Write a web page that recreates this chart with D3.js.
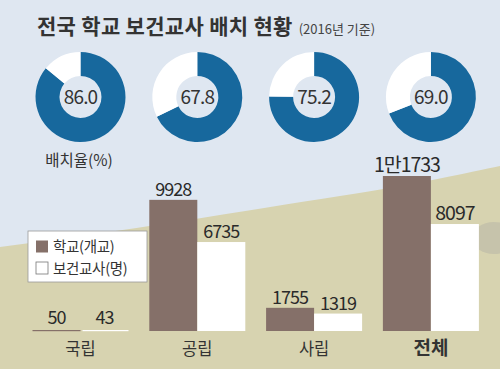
<!DOCTYPE html>
<html>
<head>
<meta charset="utf-8">
<script src="https://cdn.jsdelivr.net/npm/d3@7"></script>
<style>
  body { margin: 0; background: #fff; }
  svg { display: block; font-family: "Noto Sans CJK KR", "Noto Sans", sans-serif; }
</style>
</head>
<body>
<div id="chart"></div>
<script>
const categories = ["국립", "공립", "사립", "전체"];
const rates = [86.0, 67.8, 75.2, 69.0];
const schools = [50, 9928, 1755, 11733];
const teachers = [43, 6735, 1319, 8097];
const schoolLabels = ["50", "9928", "1755", "1만1733"];
const teacherLabels = ["43", "6735", "1319", "8097"];
const seriesNames = ["학교(개교)", "보건교사(명)"];

const width = 500, height = 369;
const blue = "#17689d", brown = "#857069";

const svg = d3.select("#chart").append("svg")
  .attr("width", width)
  .attr("height", height);

// background: sky + khaki ground
svg.append("rect").attr("width", width).attr("height", height).attr("fill", "#dfe7f1");
svg.append("path")
  .attr("d", "M0,247 C120,232 250,210 340,196 C420,184 470,172 500,166 L500,369 L0,369 Z")
  .attr("fill", "#d7d3b0");
svg.append("ellipse")
  .attr("cx", 494).attr("cy", 238).attr("rx", 22).attr("ry", 16)
  .attr("fill", "#c2bfaa").attr("opacity", 0.8);

// title
const title = svg.append("text")
  .attr("x", 37).attr("y", 34)
  .attr("fill", "#333");
title.append("tspan")
  .attr("font-size", 21).attr("font-weight", 700)
  .attr("letter-spacing", 0.3)
  .text("전국 학교 보건교사 배치 현황");
title.append("tspan")
  .attr("dx", 6).attr("font-size", 13).attr("fill", "#444")
  .text("(2016년 기준)");

// scales
const x = d3.scaleBand()
  .domain(categories)
  .range([32.5, 478.9])
  .paddingInner(0.178)
  .paddingOuter(0);

const x1 = d3.scaleBand()
  .domain(["school", "teacher"])
  .range([0, x.bandwidth()]);

const y = d3.scaleLinear()
  .domain([0, 11733])
  .range([331, 176]);

// donuts
const arc = d3.arc().innerRadius(21).outerRadius(45);
const donutY = 97;

categories.forEach((c, i) => {
  const g = svg.append("g")
    .attr("transform", `translate(${x(c) + x.bandwidth() / 2},${donutY})`);
  const split = 2 * Math.PI * rates[i] / 100;
  g.append("path")
    .attr("d", arc({ startAngle: 0, endAngle: split }))
    .attr("fill", blue);
  g.append("path")
    .attr("d", arc({ startAngle: split, endAngle: 2 * Math.PI }))
    .attr("fill", "#fff");
  g.append("text")
    .attr("text-anchor", "middle")
    .attr("dy", "0.36em")
    .attr("font-size", 19)
    .attr("letter-spacing", -0.8)
    .attr("fill", "#333")
    .text(rates[i].toFixed(1));
});

svg.append("text")
  .attr("x", 79).attr("y", 166)
  .attr("text-anchor", "middle")
  .attr("font-size", 15.5)
  .attr("fill", "#333")
  .text("배치율(%)");

// bars
const groups = svg.append("g").selectAll("g")
  .data(categories)
  .join("g")
  .attr("transform", d => `translate(${x(d)},0)`);

const barData = (c, i) => [
  { key: "school", value: schools[i], label: schoolLabels[i] },
  { key: "teacher", value: teachers[i], label: teacherLabels[i] }
];

groups.each(function (c, i) {
  const g = d3.select(this);
  const bars = barData(c, i);
  g.selectAll("rect")
    .data(bars)
    .join("rect")
    .attr("x", d => x1(d.key) + (i === 0 && d.key === "teacher" ? 2 : 0))
    .attr("width", d => x1.bandwidth() - (i === 0 && d.key === "teacher" ? 2 : 0))
    .attr("y", d => Math.min(y(d.value), 330))
    .attr("height", d => Math.max(y(0) - y(d.value), 1.2))
    .attr("fill", d => d.key === "school" ? brown : "#fff");

  g.selectAll("text.val")
    .data(bars)
    .join("text")
    .attr("class", "val")
    .attr("x", d => x1(d.key) + x1.bandwidth() / 2)
    .attr("y", d => Math.min(y(d.value), 330) - (i === 0 ? 6 : 4))
    .attr("text-anchor", "middle")
    .attr("font-size", i === 3 ? 19.5 : 18)
    .attr("letter-spacing", -1)
    .attr("fill", "#2a2a2a")
    .text(d => d.label);

  g.append("text")
    .attr("x", x.bandwidth() / 2)
    .attr("y", 355)
    .attr("text-anchor", "middle")
    .attr("font-size", i === 3 ? 19 : 16.5)
    .attr("font-weight", i === 3 ? 700 : 400)
    .attr("fill", "#333")
    .text(c);
});

// legend
const legend = svg.append("g").attr("transform", "translate(28,231)");
legend.append("rect")
  .attr("width", 119).attr("height", 51)
  .attr("fill", "#fff").attr("stroke", "#999").attr("stroke-width", 0.8);
seriesNames.forEach((name, i) => {
  legend.append("rect")
    .attr("x", 8).attr("y", 9.5 + i * 21.5)
    .attr("width", 12).attr("height", 12)
    .attr("fill", i === 0 ? brown : "#fff")
    .attr("stroke", i === 0 ? "none" : "#777")
    .attr("stroke-width", 0.8);
  legend.append("text")
    .attr("x", 25).attr("y", 21 + i * 21.5)
    .attr("font-size", 14.5)
    .attr("letter-spacing", -0.3)
    .attr("fill", "#333")
    .text(name);
});
</script>
</body>
</html>
